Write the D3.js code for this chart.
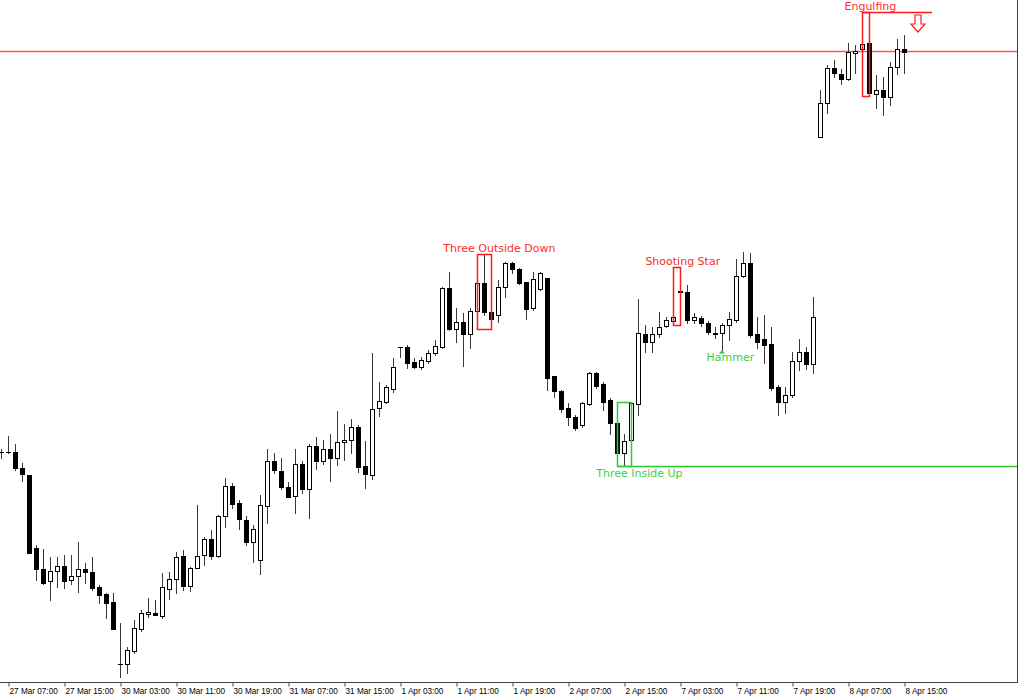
<!DOCTYPE html>
<html><head><meta charset="utf-8">
<script src="https://cdn.jsdelivr.net/npm/d3@7"></script>
<style>body{margin:0;background:#fff;} svg{display:block}</style>
</head><body><svg id="c" width="1020" height="700"></svg>
<script>
// ---- data (price in points) ----
const openP = [248,248,248,232,225,152,131,119,129,134,120,124,131,128,113,106,98,36,36,49,
71,86,87,84,111,121,144,114,132,145,161,144,184,214,197,180,158,140,194,239,
229,213,204,236,211,254,239,251,242,258,260,273,234,225,292,298,311,353,353,338,
333,339,347,353,412,371,378,366,389,417,388,385,413,437,431,418,392,411,422,324,
309,292,283,275,296,327,316,300,277,247,260,296,366,358,366,374,379,409,408,380,
382,377,367,367,375,380,424,437,366,361,356,313,298,305,339,348,336,563,597,632,
626,621,647,651,657,606,610,603,633,651];
const highP = [251,264,256,237,225,155,151,143,143,145,145,158,137,143,115,107,107,77,53,80,
90,102,100,127,128,148,150,133,195,163,170,185,222,217,200,184,175,205,251,247,
242,218,251,239,256,263,260,266,289,276,281,275,259,347,318,315,342,353,355,342,
343,350,360,413,428,392,387,392,422,446,390,420,438,438,432,418,428,428,422,324,
310,297,285,298,328,328,318,302,281,266,298,401,375,373,388,383,385,433,415,387,
384,379,373,377,388,441,448,447,383,385,373,315,313,348,361,353,403,610,635,640,
631,657,655,688,657,625,623,638,661,665];
const lowP = [242,247,230,219,147,120,116,100,113,112,116,108,117,110,97,82,71,23,27,47,
69,83,85,82,101,107,110,109,132,135,141,143,173,192,171,155,138,126,177,227,
211,203,187,207,182,231,236,219,235,240,247,228,212,221,284,297,308,343,332,332,
331,337,345,352,370,358,334,352,388,385,371,378,403,427,416,381,390,410,310,303,
288,275,270,273,295,312,290,266,243,234,255,285,348,348,363,373,375,404,377,377,
374,366,362,350,360,378,423,363,352,337,310,285,287,303,330,331,327,563,587,623,
616,620,627,640,604,592,585,595,626,627];
const closeP = [248,248,232,226,147,131,117,129,134,119,124,131,128,112,105,97,71,36,50,72,
87,88,85,113,121,143,114,132,144,161,144,184,214,196,181,158,171,195,239,230,
213,203,236,211,254,239,251,242,258,260,273,233,226,291,299,313,333,353,337,333,
340,347,354,412,371,378,366,389,417,388,381,413,437,431,417,391,421,427,322,309,
291,283,272,297,327,314,298,277,247,259,297,367,358,366,373,380,383,408,380,383,
377,368,366,375,381,424,437,365,358,355,312,298,305,339,348,336,383,597,632,627,
621,648,649,656,607,610,603,633,651,648];
const bidPrice = 649;
const tickIndex = [1,9,17,25,33,41,49,57,65,73,81,89,97,105,113,121,129];
const tickLabels = ["27 Mar 07:00","27 Mar 15:00","30 Mar 03:00","30 Mar 11:00","30 Mar 19:00",
"31 Mar 07:00","31 Mar 15:00","1 Apr 03:00","1 Apr 11:00","1 Apr 19:00","2 Apr 07:00",
"2 Apr 15:00","7 Apr 03:00","7 Apr 11:00","7 Apr 19:00","8 Apr 07:00","8 Apr 15:00"];
const patternNames = ["Three Outside Down","Three Inside Up","Shooting Star","Hammer","Engulfing"];
const patternFrom = [68,88,96,103,123];
const patternTo   = [70,90,97,103,124];
const patternBull = [false,true,false,true,false];
const patternBox  = [true,true,true,false,true];
const patternLabelAt = [71.2,91.2,97.4,104.2,124.2];
const patternLineTo = [null,"edge",null,null,133];
const patternArrowAt = [null,null,null,103,131];

// ---- drawing ----
const W = 1020, H = 700, plotR = 1017, plotB = 682;
const svg = d3.select("#c");
svg.append("rect").attr("width",W).attr("height",H).attr("fill","#fff");
const n = openP.length;
const x = d3.scaleLinear().domain([0, n-1]).range([1, 904]);
const y = d3.scaleLinear().domain([18, 700]).range([plotB, 0]);

svg.append("defs").append("clipPath").attr("id","clip")
  .append("rect").attr("x",0).attr("y",0).attr("width",plotR).attr("height",plotB);
const plot = svg.append("g").attr("clip-path","url(#clip)");

// bid line
plot.append("line").attr("x1",0).attr("x2",plotR)
  .attr("y1",Math.round(y(bidPrice))+0.5).attr("y2",Math.round(y(bidPrice))+0.5)
  .attr("stroke","#f25c5c").attr("stroke-width",1.6);

const bars = d3.range(n).map(i=>({i,o:openP[i],h:highP[i],l:lowP[i],c:closeP[i]}));
const cg = plot.append("g");
bars.forEach(d=>{
  const cx = Math.round(x(d.i));
  cg.append("line").attr("x1",cx+0.5).attr("x2",cx+0.5)
    .attr("y1",Math.round(y(d.h))).attr("y2",Math.round(y(d.l))+1)
    .attr("stroke","#3a3a3a").attr("stroke-width",1);
  const top = Math.round(Math.min(y(d.o),y(d.c)));
  const bot = Math.round(Math.max(y(d.o),y(d.c)));
  if (bot - top < 1) {
    cg.append("line").attr("x1",cx-2).attr("x2",cx+3)
      .attr("y1",top+0.5).attr("y2",top+0.5).attr("stroke","#000");
  } else {
    cg.append("rect").attr("x",cx-2+0.5).attr("y",top+0.5)
      .attr("width",4).attr("height",bot-top)
      .attr("fill", d.c < d.o ? "#000" : "#fff")
      .attr("stroke","#000").attr("stroke-width",1);
  }
});

// patterns
const ag = plot.append("g");
patternNames.forEach((name,k)=>{
  const col = patternBull[k] ? "#2ecc2e" : "#ff1a1a";
  const tcol = patternBull[k] ? "#3ccf3c" : "#ff2a2a";
  const idx = d3.range(patternFrom[k], patternTo[k]+1);
  const hi = d3.max(idx, i=>highP[i]), lo = d3.min(idx, i=>lowP[i]);
  const x0 = Math.round(x(patternFrom[k]))+0.5, x1 = Math.round(x(patternTo[k]))+0.5;
  const yt = Math.round(y(hi))+0.5, yb = Math.round(y(lo))+0.5;
  if (patternBox[k]) {
    ag.append("rect").attr("x",x0).attr("y",yt).attr("width",x1-x0).attr("height",yb-yt)
      .attr("fill","none").attr("stroke",col).attr("stroke-width",1.5);
  }
  if (patternLineTo[k] !== null) {
    const xe = patternLineTo[k] === "edge" ? W : x(patternLineTo[k]);
    const yl = patternBull[k] ? yb : yt;
    ag.append("line").attr("x1",x0).attr("x2",xe).attr("y1",yl).attr("y2",yl)
      .attr("stroke",col).attr("stroke-width",1.5);
  }
  if (patternArrowAt[k] !== null) {
    const ax = x(patternArrowAt[k]);
    if (patternBull[k]) {
      const ay = y(lo);
      ag.append("path").attr("d",`M${ax-3},${ay+3.5}L${ax+3},${ay+3.5}L${ax},${ay}Z`)
        .attr("fill",col);
    } else {
      const ay = y(hi) + 3;
      ag.append("path")
        .attr("d",`M${ax-3},${ay}L${ax+3},${ay}L${ax+3},${ay+9}L${ax+7},${ay+9}L${ax},${ay+17}L${ax-7},${ay+9}L${ax-3},${ay+9}Z`)
        .attr("fill","#fff").attr("stroke",col).attr("stroke-width",1.2);
    }
  }
  const by = patternBull[k] ? y(lo) + 10.5 : y(hi) - 2.5;
  ag.append("text").attr("x",x(patternLabelAt[k])).attr("y",by)
    .attr("text-anchor","middle").attr("font-family","DejaVu Sans, sans-serif")
    .attr("font-size",11).attr("fill",tcol).text(name);
});

// frame
svg.append("line").attr("x1",plotR+0.5).attr("x2",plotR+0.5).attr("y1",0).attr("y2",plotB)
  .attr("stroke","#444");
const axis = d3.axisBottom(x).tickValues(tickIndex)
  .tickFormat((d,i)=>tickLabels[i]).tickSize(4).tickSizeOuter(0);
const ax = svg.append("g").attr("transform",`translate(0,${plotB+0.5})`).call(axis);
ax.select(".domain").attr("d",`M0,0H${plotR+1}`).attr("stroke","#444");
ax.selectAll(".tick line").attr("stroke","#444").attr("transform","translate(0.5,0)");
ax.selectAll(".tick text").attr("text-anchor","start").attr("x",1).attr("y",6)
  .attr("font-family","Liberation Sans, Arial, sans-serif").attr("font-size",8.2).attr("fill","#000");
</script></body></html>
